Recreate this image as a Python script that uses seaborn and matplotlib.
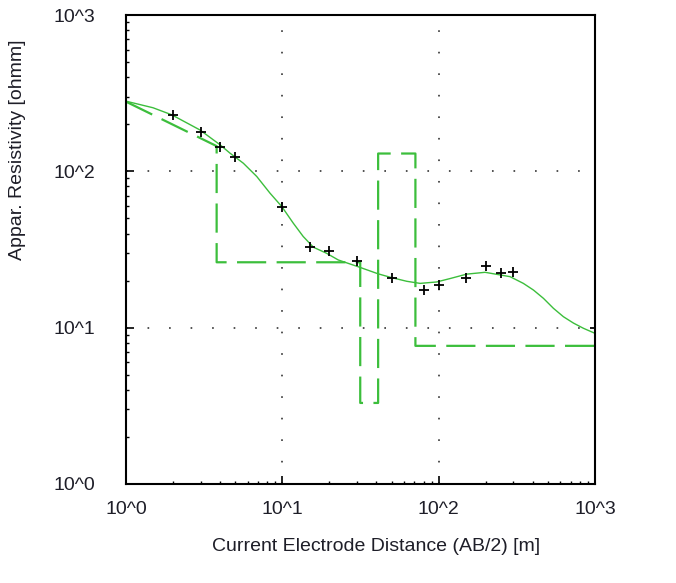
import matplotlib
matplotlib.use("Agg")
import matplotlib.pyplot as plt
import matplotlib.ticker as mticker
import seaborn as sns
import pandas as pd

# measured sounding data (AB/2 in m, apparent resistivity in ohmm)
ab2 = [2, 3, 4, 5, 10, 15, 20, 30, 50, 80, 100, 150, 200, 250, 300, 1000]
rho_meas = [229, 179, 144, 124, 59.2, 32.7, 31.1, 26.8, 20.7, 17.4, 18.8, 20.7, 24.9, 22.3, 22.8, 9.95]

# calculated response curve of the model
curve_x = [1.0, 1.49, 1.96, 2.97, 3.99, 4.63, 5.63, 6.86, 8.34, 9.91, 11.75, 13.6, 15.8,
           19.2, 22.8, 31.4, 41.0, 50.0, 62.5, 76.0, 97.0, 118, 151, 198, 286, 348, 404,
           468, 542, 628, 728, 843, 1000]
curve_rho = [281, 255, 230, 184, 148, 130.6, 112.7, 92.7, 72.5, 59.6, 46.6, 38.3, 32.7,
             29.9, 27.1, 24.3, 22.1, 20.9, 19.8, 19.2, 19.6, 20.6, 22.0, 22.6, 21.2, 19.2,
             17.4, 15.4, 13.3, 11.75, 10.7, 9.91, 9.2]

# layered model (step line)
model_x = [1.0, 3.8, 3.8, 31.5, 31.5, 41.0, 41.0, 71.0, 71.0, 1000]
model_rho = [279, 145, 26.2, 26.2, 3.3, 3.3, 130, 130, 7.65, 7.65]

tick_vals = [1, 10, 100, 1000]
tick_labels = ["10^0", "10^1", "10^2", "10^3"]

sns.set_theme(style="white")
plt.rcParams['font.family'] = ['Liberation Sans', 'DejaVu Sans']
plt.rcParams['lines.scale_dashes'] = False
text_color = "#1e1e28"
green = "#3cbe3c"

meas = pd.DataFrame({"x": ab2, "rho": rho_meas})
curve = pd.DataFrame({"x": curve_x, "rho": curve_rho})
model = pd.DataFrame({"x": model_x, "rho": model_rho})

fig = plt.figure(figsize=(6.76, 5.83), dpi=100)
ax = fig.add_axes([126 / 676, 99 / 583, 469 / 676, 469 / 583])
ax.set_xscale("log")
ax.set_yscale("log")

# model as dashed steps, response as thin solid line
sns.lineplot(data=model, x="x", y="rho", sort=False, estimator=None, color=green,
             linewidth=1.6, linestyle=(0, (21, 7.5)), ax=ax)
sns.lineplot(data=curve, x="x", y="rho", sort=False, estimator=None, color=green,
             linewidth=1.0, ax=ax)
ax.plot(meas["x"], meas["rho"], linestyle="none", marker="+", color="black",
        markersize=7, markeredgewidth=1.3, zorder=5)

ax.set_xlim(1, 1000)
ax.set_ylim(1, 1000)

ax.xaxis.set_major_locator(mticker.FixedLocator(tick_vals))
ax.yaxis.set_major_locator(mticker.FixedLocator(tick_vals))
ax.set_xticklabels(tick_labels)
ax.set_yticklabels(tick_labels)
ax.xaxis.set_minor_locator(mticker.LogLocator(base=10, subs=range(2, 10)))
ax.yaxis.set_minor_locator(mticker.LogLocator(base=10, subs=range(2, 10)))
ax.xaxis.set_minor_formatter(mticker.NullFormatter())
ax.yaxis.set_minor_formatter(mticker.NullFormatter())

ax.tick_params(which="major", direction="in", length=6, width=1.2, color="black",
               labelsize=14, labelcolor=text_color, top=False, right=False,
               bottom=True, left=True)
ax.tick_params(which="minor", direction="in", length=2.5, width=1.0, color="black",
               top=False, right=False, bottom=True, left=True)
ax.tick_params(axis="x", which="major", pad=12)
ax.tick_params(axis="y", which="major", pad=22)

ax.grid(True, which="major", color="#333333", linestyle=(0, (1.2, 14.3)), linewidth=1.2)
ax.grid(False, which="minor")

for side in ax.spines.values():
    side.set_color("black")
    side.set_linewidth(1.5)
    side.set_visible(True)

ax.set_xlabel("Current Electrode Distance (AB/2) [m]", fontsize=14, color=text_color)
ax.set_ylabel("Appar. Resistivity [ohmm]", fontsize=14, color=text_color)
ax.xaxis.set_label_coords(0.533, -0.115)
ax.yaxis.set_label_coords(-0.214, 0.712)

fig.savefig("out.png", dpi=100, facecolor="white")
